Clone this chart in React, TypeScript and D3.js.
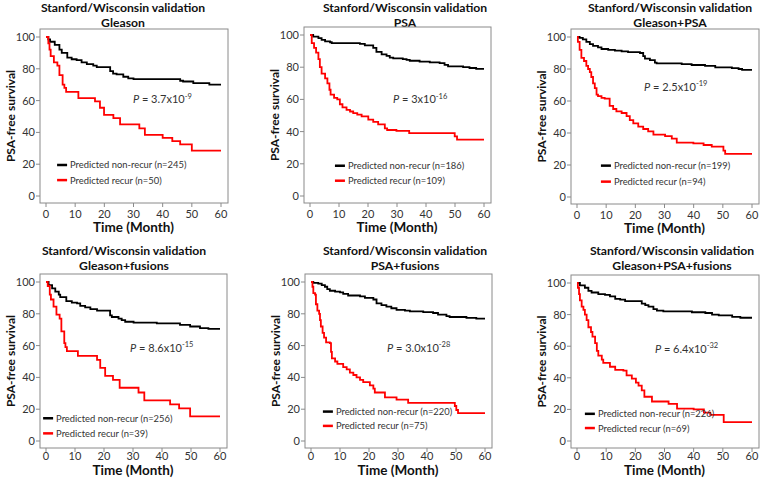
import React from 'react';
import * as d3 from 'd3';

type Pt = [number, number];

// ---------- data ----------
const timeTicks = [0, 10, 20, 30, 40, 50, 60];
const survivalTicks = [0, 20, 40, 60, 80, 100];
const titleLine1 = 'Stanford/Wisconsin validation';
const panelNames = ['Gleason', 'PSA', 'Gleason+PSA', 'Gleason+fusions', 'PSA+fusions', 'Gleason+PSA+fusions'];
const nonRecurN = [245, 186, 199, 256, 220, 226];
const recurN = [50, 109, 94, 39, 75, 69];
const pMantissa = ['3.7', '3', '2.5', '8.6', '3.0', '6.4'];
const pExponent = ['-9', '-16', '-19', '-15', '-28', '-32'];

const gleasonNonRecur: Pt[] = [[0,100],[0.8,98.5],[1.4,97],[3,95],[4.6,92],[5.4,90],[7.3,87],[8.8,86],[10.5,85.5],[12.2,84],[14,83],[16.2,82],[17.4,81],[22,78.5],[23,77],[24.2,76.5],[26.5,75],[28.2,74],[30,73.5],[46,72.5],[47,72],[50.5,71],[56,70]];
const gleasonRecur: Pt[] = [[0,100],[0.8,96],[1.2,92],[1.6,88],[2.7,84],[3.9,82],[4.6,76],[5.7,70],[6.3,68],[6.9,65.5],[11.1,61.5],[16.8,59.5],[18.5,55.5],[19.9,51],[23.1,49],[25.4,45],[32,42.5],[33.9,38.5],[40,36.5],[43.3,34.5],[46,32.5],[50,28.5]];

const psaNonRecur: Pt[] = [[0,100],[1.1,99],[2.9,98],[4,97],[5.2,96],[6.9,95.5],[7.5,95],[17.2,94.5],[18.9,93.5],[21.8,92],[22.9,89.5],[24.7,88],[26.4,87],[27.5,86],[28.7,85.5],[32,85],[33.3,84.5],[34.4,84],[37.8,83.5],[41.3,83],[44.7,82.5],[46.4,81.5],[47.6,80.5],[52.8,80],[55,79.5],[57.3,79]];
const psaRecur: Pt[] = [[0,100],[0.6,95],[1.4,92],[2.1,89],[2.9,85],[3.4,80],[4,76],[5.2,73],[6,70],[6.7,66],[7.1,63],[8.3,61],[9.4,60],[10.3,57],[11.2,55],[12.6,53.5],[13.8,52.5],[14.9,51.5],[16.3,50.5],[17.8,49.5],[20.1,47.5],[21.8,46],[23.5,44.5],[25.8,42],[26.6,41],[29.8,40.5],[34.2,39],[49.9,37],[50.7,35]];

const gleasonPsaNonRecur: Pt[] = [[0,100],[0.9,99.5],[2,98.5],[3.2,97],[4.4,95.5],[5.5,94.5],[7.2,93.5],[8.4,92.5],[10.7,92],[13,91.5],[15.3,91],[17.5,90.5],[21.6,90],[22.7,88],[23.3,86.5],[25,85.5],[26.7,84],[27.3,83.5],[35.9,83],[39.3,82.5],[43.9,82],[47.4,81],[53.1,80.5],[55.4,80],[56.6,79.5]];
const gleasonPsaRecur: Pt[] = [[0,100],[0.3,97],[0.9,92],[1.5,87],[2.4,85],[3.2,82],[3.8,80],[4.4,78],[4.9,75],[5.5,71],[6.1,68],[6.7,64],[7.2,63],[8.4,62],[9.5,61.5],[11.2,57],[12.4,55],[13.5,53.5],[15.3,52.5],[17,50.5],[18.1,48],[19.3,46],[21,44],[22.7,42.5],[24.4,41],[26.2,39],[30.2,38],[32.5,36.5],[34.2,34],[39.9,33.5],[43.4,32.5],[46.2,31.5],[50.2,29],[50.8,27]];

const gleasonFusionsNonRecur: Pt[] = [[0,100],[0.9,98],[2.1,96],[3.2,94],[4.4,92],[4.9,90.5],[7,88],[8.9,87],[10.7,86.5],[11.8,85],[13.5,84],[15.3,83],[17.6,82],[22.1,79],[22.7,78],[25,77],[26.1,76],[27.3,75],[30.2,74.5],[38.2,74],[46.2,73],[49.7,72],[53.1,71],[56,70.5]];
const gleasonFusionsRecur: Pt[] = [[0,100],[0.6,97.5],[1.3,92],[1.7,89],[2.6,84.5],[3.6,79.5],[4.7,77],[5.3,69],[6.3,61.5],[6.7,59],[7.2,56.5],[11,53.5],[17.6,51],[18.7,46],[20.4,41],[23.1,38.5],[25.4,33.5],[31.9,30.5],[33.9,25.5],[42.8,23],[45.9,20.5],[49.7,15.5]];

const psaFusionsNonRecur: Pt[] = [[0,100],[0.8,99.5],[2.5,99],[3.7,98],[4.8,97],[5.6,95.5],[6.5,94.5],[8.3,94],[10,93.5],[11.1,92.5],[12.8,91.5],[16.9,91],[18.6,90],[21.5,89],[22.6,86.5],[24.3,85.5],[26,84.5],[27.7,83.5],[29.5,82.5],[32.4,82],[34.1,81.5],[38.7,81],[42.1,80.5],[43.8,79.5],[46.7,78.5],[47.8,78],[53.6,77.5],[57,77]];
const psaFusionsRecur: Pt[] = [[0,100],[0.5,97],[0.8,93],[1.4,92],[1.7,86],[2.2,82],[2.8,80],[3.1,76],[3.4,72],[4,68],[4.5,65],[5.2,62],[6.5,61.5],[6.9,56],[7.2,52],[8.3,50],[9.1,48.5],[11.1,46.5],[12.3,45],[13.4,43],[14.6,41.5],[15.7,40],[16.9,38.5],[18,37],[20.3,35],[21.5,33],[22,30.5],[25.5,27.5],[29.5,26],[33.5,24],[49.6,22],[50.1,19.5],[50.7,17.5]];

const gleasonPsaFusionsNonRecur: Pt[] = [[0,100],[1,98.5],[2.7,97],[3.9,95],[5,94],[7.3,93],[9.6,92.5],[11.3,91.5],[13.1,90],[14.8,89.5],[16.5,88.5],[22.2,87],[23.4,86],[24.5,85],[26.2,83.5],[27.4,82.5],[29.6,82],[39.4,81.5],[44,81],[46.3,80],[48.6,79.5],[53.2,78.5],[56,78]];
const gleasonPsaFusionsRecur: Pt[] = [[0,100],[0.3,97],[0.7,93],[1,89],[1.6,85],[2.2,83],[2.7,80],[3.3,76.5],[3.9,72],[4.8,69],[5.3,66],[6.2,62],[6.8,57],[7.3,54],[8.5,51.5],[9,49.5],[11.3,47],[13.1,45],[15.9,44.5],[17,41.5],[18.8,39.5],[20.2,37],[21.1,35],[22.2,32],[23.1,28],[25.7,25],[31.4,23.5],[34.3,20.5],[40,20],[43.5,18],[45.7,16.5],[50.3,12]];

const nonRecurSeries = [gleasonNonRecur, psaNonRecur, gleasonPsaNonRecur, gleasonFusionsNonRecur, psaFusionsNonRecur, gleasonPsaFusionsNonRecur];
const recurSeries = [gleasonRecur, psaRecur, gleasonPsaRecur, gleasonFusionsRecur, psaFusionsRecur, gleasonPsaFusionsRecur];

// P label anchor (month, survival) and legend anchor (month, survival row1, survival row2)
const pAnchor: Pt[] = [[29.8, 61], [28.6, 60], [23, 69], [29, 58.5], [26.2, 58.5], [26.7, 58.5]];
const legendAnchor: [number, number, number][] = [[3.8, 19.5, 10], [8.6, 18.8, 9.5], [8.2, 19.6, 9.6], [-1, 14.3, 4.8], [4.1, 18.5, 9.5], [2.7, 17.2, 8.2]];

// ---------- layout ----------
const layout = [
  { x0: 46, x1: 221, yTop: 37, yBot: 196, titleX: 123, titleY: 12, tickDy: 15, axDy: 29 },
  { x0: 310, x1: 484, yTop: 35, yBot: 196, titleX: 405, titleY: 12, tickDy: 15, axDy: 29 },
  { x0: 577, x1: 752, yTop: 37, yBot: 197, titleX: 670, titleY: 12, tickDy: 15, axDy: 29 },
  { x0: 46, x1: 220, yTop: 282, yBot: 441, titleX: 124, titleY: 255, tickDy: 12, axDy: 26.5 },
  { x0: 311, x1: 485, yTop: 282, yBot: 441, titleX: 405, titleY: 255, tickDy: 12, axDy: 26.5 },
  { x0: 577, x1: 752, yTop: 283, yBot: 441, titleX: 672, titleY: 255, tickDy: 12, axDy: 26.5 },
];

const FONT = "Lato, 'Open Sans', sans-serif";
const TEXT = '#333';
const AXIS = '#8a8a8a';

function Panel({ i }: { i: number }) {
  const L = layout[i];
  const x = d3.scaleLinear().domain([0, 60]).range([L.x0, L.x1]);
  const y = d3.scaleLinear().domain([0, 100]).range([L.yBot, L.yTop]);
  const line = d3.line<Pt>().x(d => x(d[0])).y(d => y(d[1])).curve(d3.curveStepAfter);
  const full = (s: Pt[]): Pt[] => [...s, [60, s[s.length - 1][1]]];
  const boxL = L.x0 - 6, boxR = L.x1 + 7, boxT = L.yTop - 8, boxB = L.yBot + 7;
  const [pmx, pmy] = pAnchor[i];
  const [lx, ly1, ly2] = legendAnchor[i];
  const legX = x(lx);
  return (
    <g fontFamily={FONT}>
      <text x={L.titleX} y={L.titleY} textAnchor="middle" fontWeight="bold" fontSize={12.2} fill="#111">{titleLine1}</text>
      <text x={L.titleX} y={L.titleY + 15} textAnchor="middle" fontWeight="bold" fontSize={12.2} fill="#111">{panelNames[i]}</text>
      <rect x={boxL} y={boxT} width={boxR - boxL} height={boxB - boxT} fill="none" stroke={AXIS} strokeWidth={1} />
      {survivalTicks.map(t => (
        <g key={'y' + t}>
          <line x1={boxL - 4} x2={boxL} y1={y(t)} y2={y(t)} stroke={AXIS} />
          <text x={boxL - 5} y={y(t) + 4} textAnchor="end" fontSize={11} fill={TEXT}>{t}</text>
        </g>
      ))}
      {timeTicks.map(t => (
        <g key={'x' + t}>
          <line x1={x(t)} x2={x(t)} y1={boxB} y2={boxB + 4} stroke={AXIS} />
          <text x={x(t)} y={boxB + L.tickDy} textAnchor="middle" fontSize={11} fill={TEXT}>{t}</text>
        </g>
      ))}
      <text transform={`translate(${L.x0 - 31},${(boxT + boxB) / 2}) rotate(-90)`} textAnchor="middle" fontWeight="bold" fontSize={12} fill="#111">PSA-free survival</text>
      <text x={(L.x0 + L.x1) / 2} y={boxB + L.axDy} textAnchor="middle" fontWeight="bold" fontSize={13.5} fill="#111">Time (Month)</text>
      <path d={line(full(nonRecurSeries[i])) || ''} fill="none" stroke="#000" strokeWidth={1.8} />
      <path d={line(full(recurSeries[i])) || ''} fill="none" stroke="#ff0000" strokeWidth={1.8} />
      <text x={x(pmx)} y={y(pmy) + 4} fontSize={11} fill={TEXT}>
        <tspan fontStyle="italic">P</tspan> = {pMantissa[i]}x10<tspan dy={-4.5} fontSize={7.5}>{pExponent[i]}</tspan>
      </text>
      <line x1={legX} x2={legX + 10} y1={y(ly1)} y2={y(ly1)} stroke="#000" strokeWidth={2.5} />
      <text x={legX + 13} y={y(ly1) + 3.5} fontSize={9.4} fill={TEXT}>Predicted non-recur (n={nonRecurN[i]})</text>
      <line x1={legX} x2={legX + 10} y1={y(ly2)} y2={y(ly2)} stroke="#ff0000" strokeWidth={2.5} />
      <text x={legX + 13} y={y(ly2) + 3.5} fontSize={9.4} fill={TEXT}>Predicted recur (n={recurN[i]})</text>
    </g>
  );
}

export default function App() {
  return (
    <svg width={760} height={480} style={{ position: 'absolute', left: 0, top: 0, background: '#fff' }}>
      <rect width={760} height={480} fill="#fff" />
      {layout.map((_, i) => <Panel key={i} i={i} />)}
    </svg>
  );
}
